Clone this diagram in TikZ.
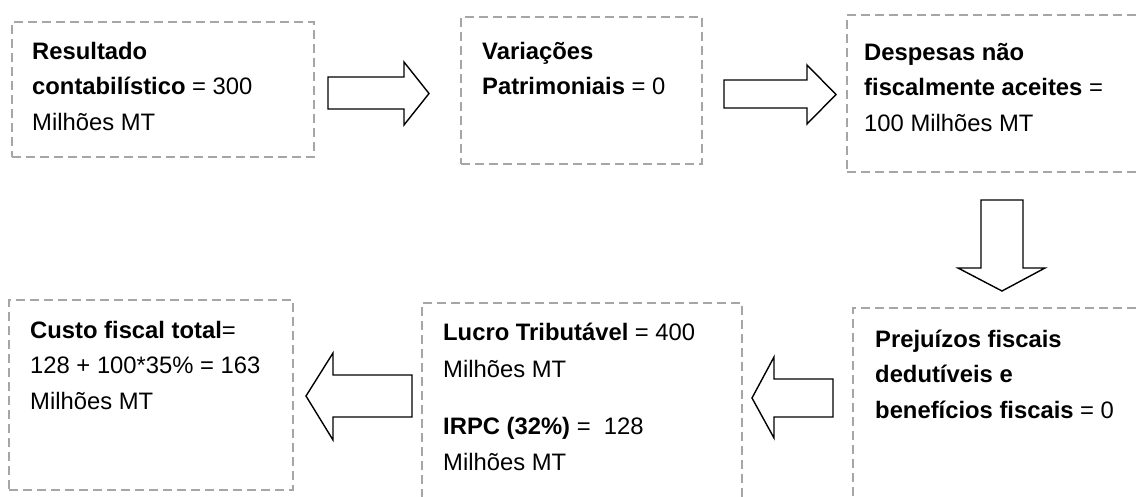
\documentclass[tikz,border=0pt]{standalone}
\usepackage{fontspec}
\setmainfont{Liberation Sans}
\usetikzlibrary{calc}
\definecolor{boxgray}{HTML}{A6A6A6}
\newcommand{\boxtext}[1]{\parbox[t]{420pt}{\raggedright\fontsize{23.8}{35.5}\selectfont #1}}
\tikzset{
  box/.style={draw=boxgray, line width=2pt, dash pattern=on 9pt off 5pt,
    rectangle, inner sep=0pt, anchor=north west},
  label/.style={anchor=base west, inner sep=0pt},
  barrow/.style={draw=black, line width=1.4pt, fill=white, line join=miter}
}
\begin{document}
\begin{tikzpicture}[x=1pt, y=-1pt]
\useasboundingbox (0,0) rectangle (1138,496);
\clip (0,0) rectangle (1138,496);
\fill[white] (0,0) rectangle (1138,496);

% dashed boxes
\node[box, minimum width=302pt, minimum height=135pt] (b1) at (11,21) {};
\node[box, minimum width=241pt, minimum height=147pt] (b2) at (460,16) {};
\node[box, minimum width=304pt, minimum height=157pt] (b3) at (846,14) {};
\node[box, minimum width=298pt, minimum height=205pt] (b5) at (852,307) {};
\node[box, minimum width=320pt, minimum height=210pt] (b4) at (421,302) {};
\node[box, minimum width=284pt, minimum height=190pt] (b6) at (8,299) {};

% texts
\node[label] (t1) at ($(b1.north west)+(21,38)$)
  {\boxtext{\textbf{Resultado}\\ \textbf{contabilístico} = 300\\ Milhões MT}};
\node[label] (t2) at ($(b2.north west)+(22,43)$)
  {\boxtext{\textbf{Variações}\\ \textbf{Patrimoniais} = 0}};
\node[label] (t3) at ($(b3.north west)+(18,46)$)
  {\boxtext{\textbf{Despesas não}\\ \textbf{fiscalmente aceites} =\\ 100 Milhões MT}};
\node[label] (t5) at ($(b5.north west)+(23,40)$)
  {\boxtext{\textbf{Prejuízos fiscais}\\ \textbf{dedutíveis e}\\ \textbf{benefícios fiscais} = 0}};
\node[label] (t4) at ($(b4.north west)+(22,38)$)
  {\boxtext{\textbf{Lucro Tributável} = 400\\[1.5pt] Milhões MT\\[22pt] \textbf{IRPC (32\%)} =\ \ 128\\ Milhões MT}};
\node[label] (t6) at ($(b6.north west)+(22,39)$)
  {\boxtext{\textbf{Custo fiscal total}=\\ 128 + 100*35\% = 163\\ Milhões MT}};

% block arrows between the boxes
\coordinate (a1) at (328,93.5);
\draw[barrow] (a1) -- (328,77) -- (404,77) -- (404,62) -- (429,93.5)
  -- (404,125) -- (404,109) -- (328,109) -- cycle;

\coordinate (a2) at (724,94.5);
\draw[barrow] (a2) -- (724,80) -- (807,80) -- (807,65) -- (836,94.5)
  -- (807,124) -- (807,108) -- (724,108) -- cycle;

\coordinate (a3) at (1002,200);
\draw[barrow] (a3) -- (981,200) -- (981,268) -- (958,268) -- (1002,291)
  -- (1045,268) -- (1023,268) -- (1023,200) -- cycle;

\coordinate (a4) at (833,398);
\draw[barrow] (a4) -- (833,379) -- (774,379) -- (774,357) -- (752,398)
  -- (774,438) -- (774,417) -- (833,417) -- cycle;

\coordinate (a5) at (412,396);
\draw[barrow] (a5) -- (412,375) -- (333,375) -- (333,353) -- (306,396)
  -- (333,440) -- (333,417) -- (412,417) -- cycle;
\end{tikzpicture}
\end{document}
